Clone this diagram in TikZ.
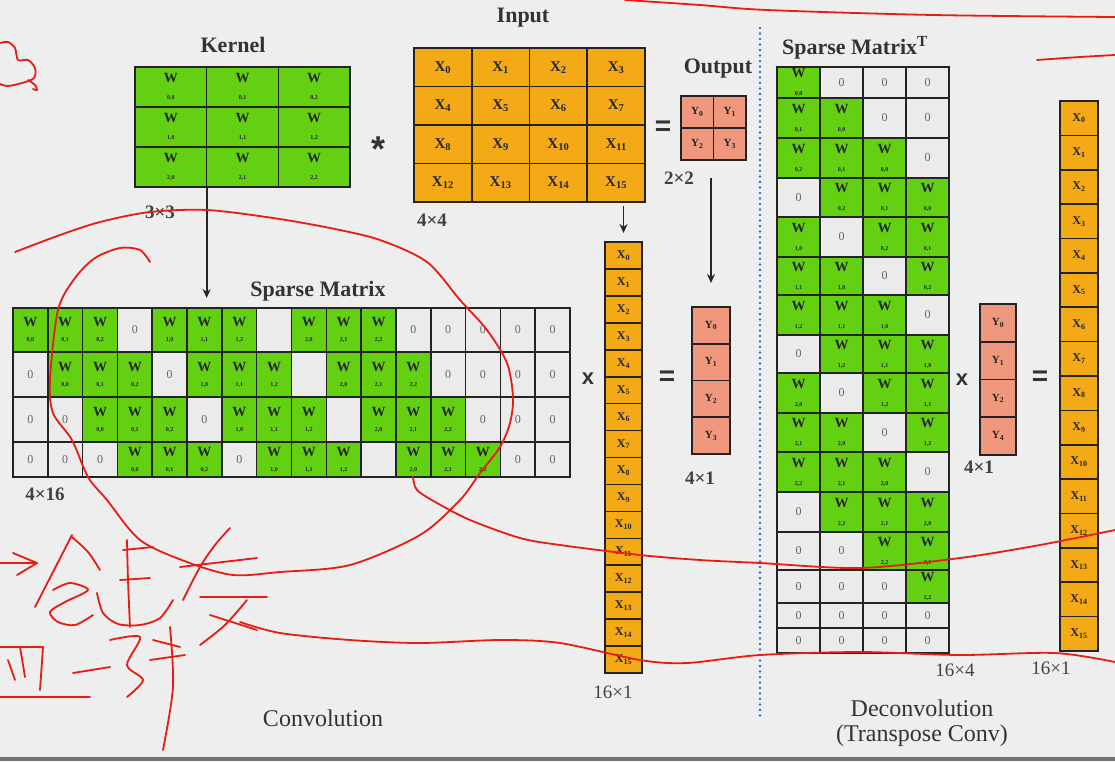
\documentclass[tikz,border=0pt]{standalone}
\usepackage{fontspec}
\setmainfont{Liberation Serif}
\setsansfont{Liberation Sans}
\usetikzlibrary{arrows.meta,calc}
\definecolor{bgc}{RGB}{238,238,238}
\definecolor{gcol}{RGB}{100,208,18}
\definecolor{ocol}{RGB}{244,170,22}
\definecolor{scol}{RGB}{240,152,126}
\definecolor{zcol}{RGB}{235,235,235}
\definecolor{lcol}{RGB}{35,35,35}
\definecolor{inkc}{RGB}{232,28,18}
\definecolor{dotc}{RGB}{45,105,225}
\tikzset{
  cellbase/.style={draw=lcol, line width=1.6pt, inner sep=0pt, outer sep=0pt, align=center, text=black!85},
  gcell/.style={cellbase, fill=gcol, font=\fontsize{14}{14}\selectfont\bfseries},
  zcell/.style={cellbase, fill=zcol, font=\fontsize{12}{14}\selectfont, text=black!60},
  ocell/.style={cellbase, fill=ocol, font=\fontsize{15}{16}\selectfont\bfseries},
  ocellsm/.style={cellbase, fill=ocol, font=\fontsize{12}{13}\selectfont\bfseries},
  scell/.style={cellbase, fill=scol, font=\fontsize{11}{12}\selectfont\bfseries},
  ttl/.style={font=\fontsize{22}{26}\selectfont\bfseries, text=black!80, inner sep=0pt},
  dim/.style={font=\fontsize{19}{22}\selectfont\bfseries, text=black!75, inner sep=0pt},
  dimr/.style={font=\fontsize{19}{22}\selectfont, text=black!75, inner sep=0pt},
  captxt/.style={font=\fontsize{24}{25}\selectfont, text=black!80, align=center, inner sep=0pt},
  opeq/.style={font=\fontsize{28}{28}\selectfont\sffamily\bfseries, text=black!80, inner sep=0pt},
  opx/.style={font=\fontsize{22}{22}\selectfont\sffamily\bfseries, text=black!80, inner sep=0pt},
  opast/.style={font=\fontsize{36}{36}\selectfont\sffamily\bfseries, text=black!80, inner sep=0pt},
  arr/.style={-{Stealth[length=9pt,width=8pt]}, line width=1.8pt, draw=black!85},
  ink/.style={draw=inkc, line width=1.8pt, line cap=round, line join=round},
  dotline/.style={draw=dotc, line width=2.6pt, line cap=round, dash pattern=on 0pt off 5.5pt}
}
% name, x, y, w, h, code, gap
\newcommand\wcell[7]{%
  \ifnum#6<0\relax
    \ifnum#6=-1\relax
      \node[zcell,minimum width=#4,minimum height=#5] (#1) at (#2,#3) {0};
    \else
      \node[zcell,minimum width=#4,minimum height=#5] (#1) at (#2,#3) {};
    \fi
  \else
    \pgfmathtruncatemacro\wa{int(#6/3)}%
    \pgfmathtruncatemacro\wb{mod(#6,3)}%
    \node[gcell,minimum width=#4,minimum height=#5] (#1) at (#2,#3) {W\\[#7]{\fontsize{6}{7}\selectfont\wa,\wb}};
  \fi}
\begin{document}
\begin{tikzpicture}[x=1pt,y=-1pt]
\fill[bgc] (0,0) rectangle (1115,761);
\useasboundingbox (0,0) rectangle (1115,761);
\fill[black!55] (0,757) rectangle (1115,761);

% ---------- Kernel ----------
\foreach \r in {0,1,2}{\foreach \c in {0,1,2}{
  \pgfmathtruncatemacro\k{3*\r+\c}
  \pgfmathsetmacro\cx{135+71.67*(\c+0.5)}
  \pgfmathsetmacro\cy{67+40*(\r+0.5)}
  \wcell{k-\r-\c}{\cx}{\cy}{71.67}{40}{\k}{3pt}
}}
\node[ttl] (tk) at (233,45) {Kernel};
\node[dim] (d33) at (160,212) {3×3};
\node[opast] (ast) at (378,149) {*};

% ---------- Input ----------
\foreach \r in {0,...,3}{\foreach \c in {0,...,3}{
  \pgfmathtruncatemacro\k{4*\r+\c}
  \node[ocell, minimum width=57.75, minimum height=38.5] (in-\r-\c) at ({414+57.75*(\c+0.5)},{48+38.5*(\r+0.5)}) {X\textsubscript{\k}};
}}
\node[ttl] (ti) at (523,18) {Input};
\node[dim] (d44) at (432,220) {4×4};
\node[opeq] (eq1) at (663,128) {=};

% ---------- Output 2x2 ----------
\foreach \r in {0,1}{\foreach \c in {0,1}{
  \pgfmathtruncatemacro\k{2*\r+\c}
  \node[scell, minimum width=32.5, minimum height=32] (o-\r-\c) at ({681+32.5*(\c+0.5)},{96+32*(\r+0.5)}) {Y\textsubscript{\k}};
}}
\node[ttl] (to) at (718,69) {Output};
\node[dim] (d22) at (679,178) {2×2};

% ---------- Sparse matrix 4x16 ----------
\foreach \row [count=\r from 0] in {
  {0,1,2,-1,3,4,5,-2,6,7,8,-1,-1,-1,-1,-1},
  {-1,0,1,2,-1,3,4,5,-2,6,7,8,-1,-1,-1,-1},
  {-1,-1,0,1,2,-1,3,4,5,-2,6,7,8,-1,-1,-1},
  {-1,-1,-1,0,1,2,-1,3,4,5,-2,6,7,8,-1,-1}}{
  \pgfmathsetmacro\ya{{308,352,397,442,477}[\r]}
  \pgfmathsetmacro\yb{{308,352,397,442,477}[\r+1]}
  \pgfmathsetmacro\ym{(\ya+\yb)/2}
  \pgfmathsetmacro\hh{\yb-\ya}
  \foreach \t [count=\c from 0] in \row {
    \pgfmathsetmacro\cx{13+34.8125*(\c+0.5)}
    \wcell{s-\r-\c}{\cx}{\ym}{34.8125}{\hh}{\t}{1pt}
  }
}
\node[ttl] (ts) at (318,291) {Sparse Matrix};
\node[dim] (d416) at (45,494) {4×16};
\node[opx] (x1) at (588,379) {x};

% ---------- X column (conv) ----------
\foreach \i in {0,...,15}{
  \node[ocellsm, minimum width=36.5, minimum height=26.94] (xv-\i) at (623.5,{242+26.94*(\i+0.5)}) {X\textsubscript{\i}};
}
\node[dimr] (d161) at (613,692) {16×1};
\node[opeq] (eq2) at (667,378) {=};

% ---------- Y column (conv) ----------
\foreach \i in {0,...,3}{
  \node[scell, minimum width=38, minimum height=36.75] (yv-\i) at (711,{307+36.75*(\i+0.5)}) {Y\textsubscript{\i}};
}
\node[dim] (d41) at (700,478) {4×1};

% ---------- arrows ----------
\draw[arr, shorten >=10pt] (k-2-0.south east) -- (k-2-0.south east |- s-0-5.north);
\draw[arr, shorten <=4pt, shorten >=9pt] (xv-0 |- in-3-3.south) -- (xv-0.north);
\draw[arr, shorten <=18pt, shorten >=24pt] (yv-0 |- o-1-1.south) -- (yv-0.north);

% ---------- separator ----------
\coordinate (dtop) at (760,28);
\coordinate (dbot) at (760,718);
\draw[dotline] (dtop) -- (dbot);

% ---------- Sparse matrix transposed 16x4 ----------
\def\stb{{67,98,138,178,217,257,295,335,373,413,452,492,532,570,603,628,653}}
\foreach \row [count=\r from 0] in {
  {0,-1,-1,-1},{1,0,-1,-1},{2,1,0,-1},{-1,2,1,0},
  {3,-1,2,1},{4,3,-1,2},{5,4,3,-1},{-1,5,4,3},
  {6,-1,5,4},{7,6,-1,5},{8,7,6,-1},{-1,8,7,6},
  {-1,-1,8,7},{-1,-1,-1,8},{-1,-1,-1,-1},{-1,-1,-1,-1}}{
  \pgfmathsetmacro\ya{\stb[\r]}
  \pgfmathsetmacro\yb{\stb[\r+1]}
  \pgfmathsetmacro\ym{(\ya+\yb)/2}
  \pgfmathsetmacro\hh{\yb-\ya}
  \foreach \t [count=\c from 0] in \row {
    \pgfmathsetmacro\cx{777+43*(\c+0.5)}
    \wcell{st-\r-\c}{\cx}{\ym}{43}{\hh}{\t}{4pt}
  }
}
\node[ttl] (tst) at (855,48) {Sparse Matrix\textsuperscript{T}};
\node[dimr] (d164) at (955,670) {16×4};
\node[opx] (x2) at (962,380) {x};

% ---------- Y column (deconv) ----------
\foreach \lab [count=\i from 0] in {0,1,2,4}{
  \node[scell, minimum width=36, minimum height=37.75] (ry-\lab) at (998,{304+37.75*(\i+0.5)}) {Y\textsubscript{\lab}};
}
\node[dim] (d41b) at (979,467) {4×1};
\node[opeq] (eq3) at (1040,378) {=};

% ---------- X column (deconv) ----------
\foreach \i in {0,...,15}{
  \node[ocellsm, minimum width=38, minimum height=34.375] (rx-\i) at (1079,{101+34.375*(\i+0.5)}) {X\textsubscript{\i}};
}
\node[dimr] (d161b) at (1051,668) {16×1};

% ---------- captions ----------
\node[captxt] (cconv) at (323,718) {Convolution};
\node[captxt] (cdeconv) at (922,723) {Deconvolution\\(Transpose Conv)};

% ---------- red handwritten annotations ----------
\draw[ink] plot[smooth] coordinates {(625,0) (700,5) (767,10) (933,15) (1115,17)};
\draw[ink] plot[smooth] coordinates {(1037,60) (1080,57) (1115,55)};
\draw[ink] plot[smooth] coordinates {(0,43) (8,42) (15,48) (18,60) (28,60) (35,68) (34,78) (22,83) (8,86) (0,84)};
\draw[ink] plot[smooth] coordinates {(28,80) (35,85) (37,90) (33,89)};
\draw[ink] plot[smooth] coordinates {(150,262) (140,250) (120,248) (95,258) (75,278) (58,310) (50,380) (53,413) (72,440) (88,477) (107,500) (140,540) (187,562) (233,575) (280,572) (350,565) (420,535) (460,500) (480,473) (500,447) (510,423) (513,397) (507,363) (487,330) (460,300) (427,262) (380,240) (330,228) (273,218) (207,210) (150,212) (100,222) (60,235) (15,252)};
\draw[ink] plot[smooth] coordinates {(413,477) (417,490) (437,503) (470,520) (520,538) (560,545) (640,555) (700,560) (760,563) (860,568) (960,558) (1040,545) (1115,530)};
\draw[ink] plot[smooth] coordinates {(240,622) (280,633) (350,640) (420,643) (500,640) (560,643) (640,660) (687,663) (760,655) (860,652) (960,655) (1055,653) (1115,662)};
% arrow
\draw[ink] (0,563) -- (37,563);
\draw[ink] (13,553) -- (37,563) -- (17,575);
% char 1
\draw[ink] (72,535) -- (35,607);
\draw[ink] plot[smooth] coordinates {(72,537) (88,552) (100,570)};
\draw[ink] plot[smooth] coordinates {(53,590) (70,583) (88,590) (65,602) (50,612) (58,622) (75,625) (93,615)};
% char 2
\draw[ink] plot[smooth] coordinates {(127,540) (128,580) (130,627)};
\draw[ink] (123,550) -- (153,547);
\draw[ink] (120,580) -- (150,578);
\draw[ink] plot[smooth] coordinates {(97,593) (103,613) (118,624) (140,625) (160,618) (173,600)};
% char 3
\draw[ink] plot[smooth] coordinates {(230,528) (215,545) (200,567) (183,600)};
\draw[ink] (180,567) -- (257,558);
\draw[ink] (200,597) -- (267,597);
\draw[ink] plot[smooth] coordinates {(247,600) (225,625) (200,645)};
\draw[ink] (210,615) -- (257,630);
% second line
\draw[ink] (0,647) -- (43,647) -- (40,690);
\draw[ink] (20,647) -- (25,677);
\draw[ink] (8,660) -- (15,680);
\draw[ink] (0,697) -- (90,697);
\draw[ink] (73,673) -- (110,667);
\draw[ink] plot[smooth] coordinates {(110,640) (140,637) (127,665) (143,680) (127,697)};
\draw[ink] (153,640) -- (180,647);
\draw[ink] (150,660) -- (185,655);
\draw[ink] plot[smooth] coordinates {(170,627) (173,687) (163,750)};
\end{tikzpicture}
\end{document}
